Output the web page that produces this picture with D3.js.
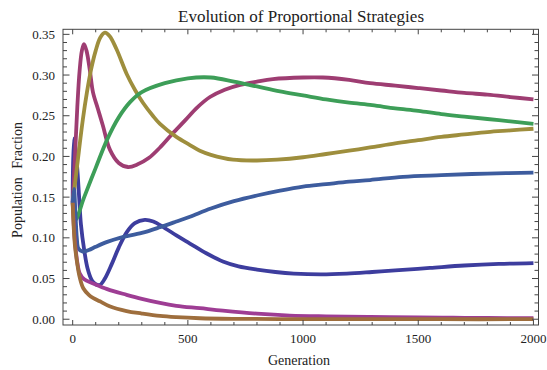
<!DOCTYPE html>
<html>
<head>
<meta charset="utf-8">
<title>Evolution of Proportional Strategies</title>
<script src="https://d3js.org/d3.v7.min.js"></script>
<style>
  body { margin: 0; background: #fff; }
  text { font-family: "Liberation Serif", "Times New Roman", serif; fill: #222; }
</style>
</head>
<body>
<svg id="chart" width="547" height="370"></svg>
<script>
// [generation, population fraction]
let series1 = [[0,0.143],[5,0.222],[12,0.21],[20,0.185],[28,0.15],[36,0.116],[50,0.085],[65,0.062],[83,0.048],[100,0.043],[118,0.042],[140,0.05],[170,0.068],[200,0.088],[235,0.107],[270,0.118],[313,0.122],[350,0.12],[400,0.112],[450,0.103],[509,0.093],[580,0.081],[652,0.071],[720,0.065],[800,0.061],[880,0.058],[960,0.056],[1080,0.055],[1190,0.056],[1300,0.058],[1400,0.06],[1551,0.063],[1700,0.066],[1850,0.068],[2000,0.069]]
let series2 = [[0,0.143],[10,0.2],[20,0.26],[30,0.305],[40,0.33],[49,0.338],[60,0.33],[75,0.305],[88,0.279],[110,0.258],[131,0.238],[162,0.208],[200,0.192],[240,0.187],[280,0.19],[330,0.198],[379,0.211],[430,0.227],[487,0.244],[540,0.26],[596,0.273],[660,0.282],[727,0.288],[800,0.292],[869,0.295],[1000,0.297],[1086,0.297],[1200,0.294],[1291,0.29],[1400,0.287],[1500,0.284],[1600,0.281],[1700,0.278],[1800,0.276],[1900,0.273],[2000,0.27]]
let series3 = [[0,0.143],[20,0.19],[44,0.245],[62,0.279],[80,0.307],[100,0.33],[120,0.346],[140,0.352],[160,0.348],[190,0.332],[235,0.301],[270,0.282],[305,0.266],[348,0.25],[379,0.24],[450,0.224],[509,0.214],[552,0.207],[600,0.202],[696,0.196],[800,0.195],[887,0.196],[1000,0.199],[1100,0.203],[1200,0.207],[1291,0.211],[1400,0.216],[1500,0.22],[1600,0.224],[1700,0.227],[1800,0.23],[1900,0.232],[2000,0.234]]
let series4 = [[0,0.143],[12,0.122],[50,0.15],[100,0.186],[150,0.221],[200,0.248],[250,0.267],[300,0.279],[400,0.29],[500,0.296],[600,0.297],[700,0.292],[800,0.286],[900,0.28],[1000,0.275],[1100,0.27],[1200,0.266],[1300,0.263],[1400,0.259],[1500,0.256],[1600,0.252],[1700,0.249],[1800,0.246],[1900,0.243],[2000,0.24]]
let series5 = [[0,0.143],[6,0.16],[12,0.13],[18,0.1],[25,0.087],[44,0.083],[70,0.085],[100,0.089],[150,0.095],[205,0.1],[300,0.106],[379,0.113],[450,0.12],[509,0.126],[600,0.136],[700,0.145],[800,0.152],[900,0.158],[1000,0.163],[1100,0.166],[1200,0.169],[1291,0.171],[1434,0.175],[1600,0.177],[1800,0.179],[2000,0.18]]
let series6 = [[0,0.143],[5,0.115],[10,0.095],[20,0.07],[31,0.056],[50,0.049],[89,0.044],[150,0.037],[234,0.03],[300,0.025],[379,0.02],[450,0.0165],[552,0.0135],[652,0.0105],[800,0.0068],[943,0.0045],[1100,0.0035],[1291,0.0028],[1500,0.0022],[1651,0.0018],[1800,0.0015],[2000,0.0012]]
let series7 = [[0,0.143],[5,0.11],[10,0.09],[20,0.068],[30,0.052],[46,0.038],[70,0.03],[90,0.026],[118,0.022],[160,0.016],[234,0.01],[300,0.007],[379,0.004],[450,0.0025],[552,0.0012],[700,0.0005],[900,0.0002],[1200,0.0001],[1600,0],[2000,0]]

let allSeries = [series1, series2, series3, series4, series5, series6, series7]
let colors = ["#3d3d9e", "#9e3d72", "#9e8e3d", "#3d9e58", "#3d5c9e", "#9e3d94", "#9e6e3d"]

let xMajor = [0, 500, 1000, 1500, 2000]
let yMajor = [0, 0.05, 0.10, 0.15, 0.20, 0.25, 0.30, 0.35]

let svg = d3.select('#chart')
let plotLeft = 63, plotRight = 538.5, plotTop = 29.3, plotBottom = 325

let x = d3.scaleLinear().domain([-42, 2022]).range([plotLeft, plotRight])
let y = d3.scaleLinear().domain([-0.0071, 0.3562]).range([plotBottom, plotTop])

// series
let line = d3.line()
    .x(d => x(d[0]))
    .y(d => y(d[1]))
    .curve(d3.curveCatmullRom.alpha(0.5))

svg.append("g").selectAll("path").data(allSeries)
    .enter().append("path")
    .attr("d", d => line(d))
    .attr("fill", "none")
    .attr("stroke", (d, i) => colors[i])
    .attr("stroke-width", 3.8)
    .attr("stroke-linejoin", "round")

// frame
svg.append("rect")
    .attr("x", plotLeft).attr("y", plotTop)
    .attr("width", plotRight - plotLeft).attr("height", plotBottom - plotTop)
    .attr("fill", "none").attr("stroke", "#444").attr("stroke-width", 1)

let xMinor = d3.range(0, 2001, 100)
let yMinor = d3.range(0, 36).map(i => i / 100)
let ticks = svg.append("g").attr("stroke", "#444").attr("stroke-width", 1)

xMinor.forEach(v => {
    let len = v % 500 === 0 ? 5 : 3
    ticks.append("line").attr("x1", x(v)).attr("x2", x(v)).attr("y1", plotBottom).attr("y2", plotBottom - len)
    ticks.append("line").attr("x1", x(v)).attr("x2", x(v)).attr("y1", plotTop).attr("y2", plotTop + len)
})
yMinor.forEach(v => {
    let len = Math.round(v * 100) % 5 === 0 ? 6.5 : 4
    ticks.append("line").attr("y1", y(v)).attr("y2", y(v)).attr("x1", plotLeft).attr("x2", plotLeft + len)
    ticks.append("line").attr("y1", y(v)).attr("y2", y(v)).attr("x1", plotRight).attr("x2", plotRight - len)
})

// tick labels
svg.append("g").selectAll("text").data(xMajor)
    .enter().append("text")
    .attr("x", d => x(d)).attr("y", 343)
    .attr("text-anchor", "middle")
    .attr("font-size", 13)
    .text(d => d)

svg.append("g").selectAll("text").data(yMajor)
    .enter().append("text")
    .attr("x", 55).attr("y", d => y(d) + 4.5)
    .attr("text-anchor", "end")
    .attr("font-size", 13)
    .text(d => d3.format(".2f")(d))

// titles
svg.append("text")
    .attr("x", 301).attr("y", 22)
    .attr("text-anchor", "middle")
    .attr("font-size", 17)
    .text("Evolution of Proportional Strategies")

svg.append("text")
    .attr("x", 299).attr("y", 365)
    .attr("text-anchor", "middle")
    .attr("font-size", 14)
    .text("Generation")

svg.append("text")
    .attr("transform", "translate(22,180) rotate(-90)")
    .attr("text-anchor", "middle")
    .attr("font-size", 14)
    .attr("word-spacing", 5)
    .text("Population Fraction")
</script>
</body>
</html>
